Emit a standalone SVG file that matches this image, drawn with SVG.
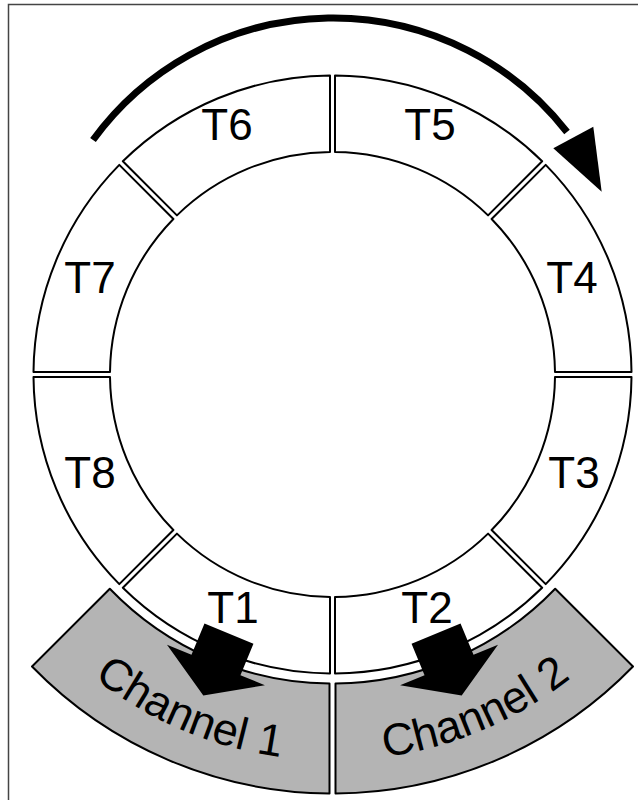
<svg xmlns="http://www.w3.org/2000/svg" xmlns:xlink="http://www.w3.org/1999/xlink" width="638" height="800" viewBox="0 0 638 800">
<style>
.seg{fill:#ffffff;stroke:#000000;stroke-width:2;stroke-linejoin:round}
.chan{fill:#b4b4b4;stroke:#000000;stroke-width:2;stroke-linejoin:round}
.lbl{font-family:"Liberation Sans",Arial,sans-serif;font-size:44px;fill:#000000;text-anchor:middle}
.clbl{font-family:"Liberation Sans",Arial,sans-serif;font-size:45px;fill:#000000;text-anchor:middle}
.frame{fill:none;stroke:#444444;stroke-width:1.5}
</style>
<defs>
<polygon id="blockArrow" points="279,-30 313,-30 313,-56.5 346,-3.5 313,49.5 313,23 279,23" fill="#000000"/>
<path id="ch1path" d="M 5.2 579.0 A 386 386 0 0 0 412.8 752.1"/>
<path id="ch2path" d="M 252.2 752.1 A 386 386 0 0 0 659.8 579.0"/>
</defs>
<rect x="0" y="0" width="638" height="800" fill="#ffffff"/>
<path class="frame" d="M 8.5 800 V 4.5 H 638"/>

<g id="ch1">
<path class="chan" d="M 329.5 683.49 L 329.5 793.49 A 419 419 0 0 1 32.01 666.51 L 109.81 588.71 A 309 309 0 0 0 329.5 683.49 Z"/>
<text class="clbl"><textPath xlink:href="#ch1path" href="#ch1path" startOffset="50%">Channel 1</textPath></text>
</g>
<g id="ch2">
<path class="chan" d="M 335.5 683.49 L 335.5 793.49 A 419 419 0 0 0 632.99 666.51 L 555.19 588.71 A 309 309 0 0 1 335.5 683.49 Z"/>
<text class="clbl"><textPath xlink:href="#ch2path" href="#ch2path" startOffset="50%">Channel 2</textPath></text>
</g>

<g id="T1">
<path class="seg" d="M 330 673.5 A 299 299 0 0 1 122.84 587.70 L 176.94 533.60 A 222.5 222.5 0 0 0 330 597 Z"/>
</g>
<g id="T2">
<path class="seg" d="M 542.16 587.70 A 299 299 0 0 1 335 673.5 L 335 597 A 222.5 222.5 0 0 0 488.06 533.60 Z"/>
</g>
<g id="T3">
<path class="seg" d="M 631.5 377 A 299 299 0 0 1 545.70 584.16 L 491.60 530.06 A 222.5 222.5 0 0 0 555 377 Z"/>
<text class="lbl" x="574" y="488">T3</text>
</g>
<g id="T4">
<path class="seg" d="M 545.70 164.84 A 299 299 0 0 1 631.5 372 L 555 372 A 222.5 222.5 0 0 0 491.60 218.94 Z"/>
<text class="lbl" x="572" y="293">T4</text>
</g>
<g id="T5">
<path class="seg" d="M 335 75.5 A 299 299 0 0 1 542.16 161.30 L 488.06 215.40 A 222.5 222.5 0 0 0 335 152 Z"/>
<text class="lbl" x="430" y="140">T5</text>
</g>
<g id="T6">
<path class="seg" d="M 122.84 161.30 A 299 299 0 0 1 330 75.5 L 330 152 A 222.5 222.5 0 0 0 176.94 215.40 Z"/>
<text class="lbl" x="227" y="140">T6</text>
</g>
<g id="T7">
<path class="seg" d="M 33.5 372 A 299 299 0 0 1 119.30 164.84 L 173.40 218.94 A 222.5 222.5 0 0 0 110 372 Z"/>
<text class="lbl" x="90" y="293">T7</text>
</g>
<g id="T8">
<path class="seg" d="M 119.30 584.16 A 299 299 0 0 1 33.5 377 L 110 377 A 222.5 222.5 0 0 0 173.40 530.06 Z"/>
<text class="lbl" x="90" y="488">T8</text>
</g>

<g id="connectors">
<path d="M 93 140 A 297 297 0 0 1 567 132" fill="none" stroke="#000000" stroke-width="7"/>
<polygon points="553.3,148.3 593.3,126.7 601.7,191.7" fill="#000000"/>
<use xlink:href="#blockArrow" href="#blockArrow" transform="translate(332.5,374.5) rotate(112.5)"/>
<g transform="translate(665,0) scale(-1,1)">
<use xlink:href="#blockArrow" href="#blockArrow" transform="translate(332.5,374.5) rotate(112.5)"/>
</g>
</g>

<text class="lbl" x="233" y="623">T1</text>
<text class="lbl" x="427" y="623">T2</text>
</svg>
